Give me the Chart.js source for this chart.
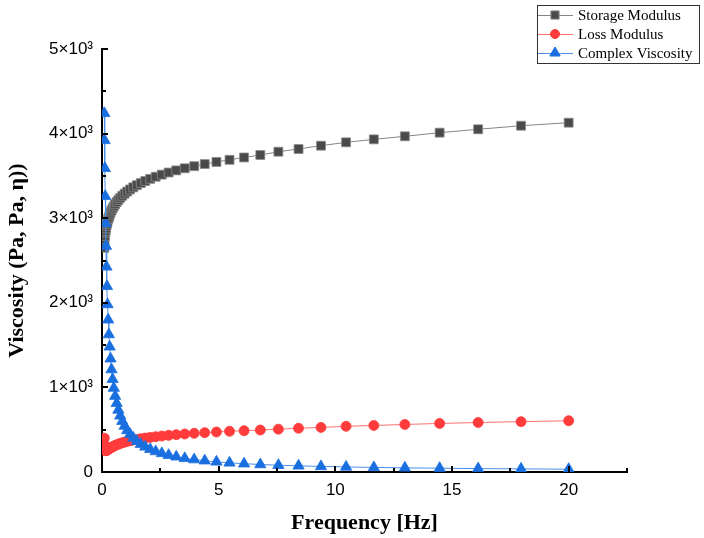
<!DOCTYPE html>
<html>
<head>
<meta charset="utf-8">
<script src="https://cdn.jsdelivr.net/npm/chart.js@4"></script>
<style>
  html, body { margin: 0; padding: 0; background: #fff; }
</style>
</head>
<body>
<canvas id="chart" width="704" height="538"></canvas>
<script>
// frequency sweep, 50 log-spaced points (Hz)
const frequency = [
  0.1, 0.1114, 0.1242, 0.1383, 0.1541, 0.1717, 0.1914, 0.2132, 0.2376, 0.2647,
  0.2950, 0.3285, 0.3660, 0.4078, 0.4544, 0.5063, 0.5641, 0.6286, 0.7004, 0.7804,
  0.8696, 0.9686, 1.079, 1.203, 1.340, 1.493, 1.663, 1.853, 2.065, 2.301,
  2.564, 2.856, 3.183, 3.546, 3.951, 4.403, 4.905, 5.465, 6.089, 6.785,
  7.560, 8.423, 9.385, 10.46, 11.65, 12.98, 14.47, 16.12, 17.96, 20.0
];
const storageModulus = [
  2650, 2750, 2790, 2830, 2850, 2880, 2910, 2935, 2960, 2990,
  3010, 3040, 3065, 3090, 3115, 3140, 3165, 3190, 3215, 3240,
  3265, 3290, 3315, 3340, 3365, 3390, 3415, 3440, 3465, 3490,
  3515, 3540, 3565, 3590, 3615, 3640, 3665, 3690, 3718, 3747,
  3786, 3818, 3857, 3897, 3932, 3968, 4011, 4051, 4093, 4129
];
const lossModulus = [
  400, 320, 275, 258, 252, 252, 255, 258, 262, 267,
  272, 278, 284, 291, 298, 305, 313, 321, 329, 337,
  345, 353, 361, 369, 377, 385, 393, 401, 409, 417,
  425, 433, 441, 449, 457, 465, 473, 481, 488, 496,
  506, 517, 527, 540, 550, 562, 574, 585, 595, 606
];
const complexViscosity = [
  4240, 3920, 3590, 3260, 2940, 2670, 2425, 2195, 1980, 1800,
  1625, 1480, 1339, 1211, 1096, 992, 897, 812, 734, 664,
  601, 544, 492, 445, 402, 364, 329, 297, 269, 243,
  220, 199, 180, 162, 147, 133, 120, 108, 98, 89,
  80, 73, 66, 60, 54, 49, 45, 40, 37, 33
];

const seriesNames = ['Storage Modulus', 'Loss Modulus', 'Complex Viscosity'];
const xTickLabels = ['0', '5', '10', '15', '20'];
const yTickLabels = ['0', '1×10³', '2×10³', '3×10³', '4×10³', '5×10³'];
const xTitle = 'Frequency [Hz]';
const yTitle = 'Viscosity (Pa, Pa, η))';

const styles = [
  { marker: '#4a4a4a', edge: '#8a8a8a', line: '#858585', pointStyle: 'rect', radius: 6.3 },
  { marker: '#ff3b3b', edge: '#ff3b3b', line: '#ff7070', pointStyle: 'circle', radius: 5 },
  { marker: '#1a6fe0', edge: '#1a6fe0', line: '#4a90e8', pointStyle: 'triangle', radius: 6.5 }
];

const toPoints = (ys) => frequency.map((f, i) => ({ x: f, y: ys[i] }));
const series = [storageModulus, lossModulus, complexViscosity];

const datasets = series.map((ys, i) => ({
  label: seriesNames[i],
  data: toPoints(ys),
  borderColor: styles[i].line,
  borderWidth: 1,
  backgroundColor: styles[i].marker,
  pointStyle: styles[i].pointStyle,
  pointRadius: styles[i].radius,
  pointBackgroundColor: styles[i].marker,
  pointBorderColor: styles[i].edge,
  pointBorderWidth: 0.8,
  tension: 0,
  order: 2 - i
}));

const serif = '"Liberation Serif", "Times New Roman", serif';
const sans = '"Liberation Sans", Arial, sans-serif';

// ticks point into the plot area, majors longer than minors
const innerTicks = {
  id: 'innerTicks',
  afterDraw(chart) {
    const { ctx, chartArea, scales } = chart;
    ctx.save();
    ctx.strokeStyle = '#000';
    ctx.lineWidth = 2;
    scales.x.ticks.forEach((t) => {
      if (t.value === 0) return;
      const px = Math.round(scales.x.getPixelForValue(t.value));
      const len = t.value % 5 === 0 ? 6 : 4;
      ctx.beginPath();
      ctx.moveTo(px, chartArea.bottom);
      ctx.lineTo(px, chartArea.bottom - len);
      ctx.stroke();
    });
    scales.y.ticks.forEach((t) => {
      if (t.value === 0) return;
      const py = Math.round(scales.y.getPixelForValue(t.value));
      const len = t.value % 1000 === 0 ? 6 : 4;
      ctx.beginPath();
      ctx.moveTo(chartArea.left, py);
      ctx.lineTo(chartArea.left + len, py);
      ctx.stroke();
    });
    ctx.restore();
  }
};

const axisTitles = {
  id: 'axisTitles',
  afterDraw(chart) {
    const { ctx, chartArea } = chart;
    ctx.save();
    ctx.fillStyle = '#000';
    ctx.font = 'bold 22px ' + serif;
    ctx.textAlign = 'center';
    ctx.textBaseline = 'middle';
    ctx.fillText(xTitle, (chartArea.left + chartArea.right) / 2, 523);
    ctx.translate(17, (chartArea.top + chartArea.bottom) / 2);
    ctx.rotate(-Math.PI / 2);
    ctx.fillText(yTitle, 0, 0);
    ctx.restore();
  }
};

const boxLegend = {
  id: 'boxLegend',
  afterDraw(chart) {
    const { ctx } = chart;
    const x0 = 537, y0 = 5, w = 162, h = 58;
    ctx.save();
    ctx.strokeStyle = '#333';
    ctx.lineWidth = 1;
    ctx.strokeRect(x0 + 0.5, y0 + 0.5, w, h);
    ctx.font = '15px ' + serif;
    ctx.textBaseline = 'middle';
    ctx.textAlign = 'left';
    seriesNames.forEach((name, i) => {
      const cy = 15 + i * 19;
      const st = styles[i];
      ctx.strokeStyle = st.line;
      ctx.lineWidth = 1;
      ctx.beginPath();
      ctx.moveTo(x0 + 1, cy + 0.5);
      ctx.lineTo(x0 + 36, cy + 0.5);
      ctx.stroke();
      ctx.fillStyle = st.marker;
      ctx.strokeStyle = st.edge;
      Chart.helpers.drawPoint(ctx, {
        pointStyle: st.pointStyle,
        radius: st.radius - 0.5,
        rotation: 0,
        borderWidth: 0.8
      }, x0 + 18, cy);
      ctx.fillStyle = '#000';
      ctx.fillText(name, x0 + 41, cy + 1);
    });
    ctx.restore();
  }
};

new Chart(document.getElementById('chart'), {
  type: 'line',
  data: { datasets },
  options: {
    responsive: false,
    animation: false,
    layout: { padding: { top: 49, right: 77, left: 0, bottom: 0 } },
    plugins: {
      legend: { display: false },
      tooltip: { enabled: false }
    },
    scales: {
      x: {
        type: 'linear',
        min: 0,
        max: 22.5,
        afterFit: (scale) => { scale.height = 66; },
        grid: { display: false, drawTicks: false },
        border: { display: true, color: '#000', width: 2 },
        ticks: {
          stepSize: 2.5,
          autoSkip: false,
          maxRotation: 0,
          padding: 8,
          color: '#000',
          font: { family: sans, size: 17 },
          callback: (v) => (v % 5 === 0 ? xTickLabels[v / 5] : '')
        }
      },
      y: {
        type: 'linear',
        min: 0,
        max: 5000,
        afterFit: (scale) => { scale.width = 102; },
        grid: { display: false, drawTicks: false },
        border: { display: true, color: '#000', width: 2 },
        ticks: {
          stepSize: 500,
          autoSkip: false,
          padding: 9,
          color: '#000',
          font: { family: sans, size: 17 },
          callback: (v) => (v % 1000 === 0 ? yTickLabels[v / 1000] : '')
        }
      }
    }
  },
  plugins: [innerTicks, axisTitles, boxLegend]
});
</script>
</body>
</html>
